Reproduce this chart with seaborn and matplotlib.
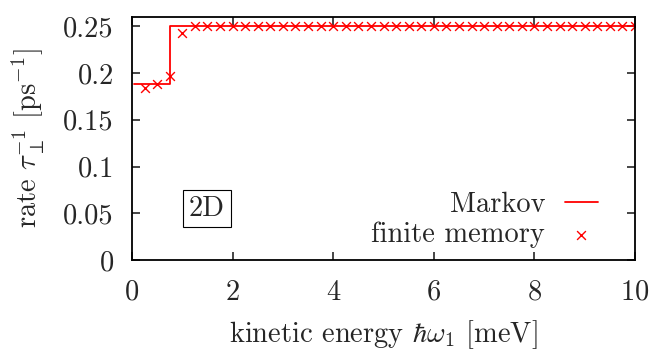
import numpy as np
import matplotlib
matplotlib.use("Agg")
import matplotlib.pyplot as plt
import seaborn as sns

# Markov rate (step at the threshold energy)
markov_x = [0.05, 0.75, 10.0]
markov_y = [0.1887, 0.25, 0.25]

# finite memory points
mem_x = [0.25, 0.5, 0.75, 1.0, 1.25, 1.5, 1.75, 2.0, 2.25, 2.5,
         2.75, 3.0, 3.25, 3.5, 3.75, 4.0, 4.25, 4.5, 4.75, 5.0,
         5.25, 5.5, 5.75, 6.0, 6.25, 6.5, 6.75, 7.0, 7.25, 7.5,
         7.75, 8.0, 8.25, 8.5, 8.75, 9.0, 9.25, 9.5, 9.75, 10.0]
mem_y = [0.1845, 0.1887, 0.1968, 0.2433, 0.25, 0.25, 0.25, 0.25, 0.25, 0.25,
         0.25, 0.25, 0.25, 0.25, 0.25, 0.25, 0.25, 0.25, 0.25, 0.25,
         0.25, 0.25, 0.25, 0.25, 0.25, 0.25, 0.25, 0.25, 0.25, 0.25,
         0.25, 0.25, 0.25, 0.25, 0.25, 0.25, 0.25, 0.25, 0.25, 0.25]

xticks = [0, 2, 4, 6, 8, 10]
yticks = [0, 0.05, 0.1, 0.15, 0.2, 0.25]
ytick_labels = ["0", "0.05", "0.1", "0.15", "0.2", "0.25"]

FS = 20.5

sns.set_style("ticks")
plt.rcParams["font.family"] = "serif"
plt.rcParams["font.serif"] = ["cmr10"]
plt.rcParams["mathtext.fontset"] = "cm"
plt.rcParams["axes.formatter.use_mathtext"] = True
plt.rcParams["font.size"] = FS

fig = plt.figure(figsize=(6.55, 3.52), dpi=100)
ax = fig.add_axes([0.2015, 0.2614, 0.768, 0.6903])

sns.lineplot(x=markov_x, y=markov_y, ax=ax, color="red", lw=1.3,
             drawstyle="steps-post", label="Markov")
sns.scatterplot(x=mem_x, y=mem_y, ax=ax, color="red", marker="x",
                s=40, linewidth=1.0, label="finite memory")

ax.set_xlim(0, 10)
ax.set_ylim(0, 0.26)
ax.set_xticks(xticks)
ax.set_yticks(yticks)
ax.set_yticklabels(ytick_labels)
ax.tick_params(direction="in", length=6, width=1.2, top=True, right=True,
               labelsize=FS)
ax.tick_params(axis="x", pad=14)
ax.tick_params(axis="y", pad=13)
for s in ax.spines.values():
    s.set_linewidth(1.3)
    s.set_color("black")

ax.set_xlabel(r"kinetic energy $\hbar\omega_1$ [meV]", fontsize=FS, labelpad=9)
ax.set_ylabel(r"rate $\tau_\perp^{-1}$ [ps$^{-1}$]", fontsize=FS, labelpad=12)

ax.text(0.149, 0.212, "2D", transform=ax.transAxes, ha="center", va="center",
        fontsize=FS, bbox=dict(boxstyle="square,pad=0.2", fc="white",
                               ec="black", lw=0.8))

# gnuplot-like key: right-aligned text, sample on the right
h, l = ax.get_legend_handles_labels()
ax.get_legend().remove()
kw = dict(frameon=False, markerfirst=False, borderpad=0, borderaxespad=0,
          handlelength=1.15, handletextpad=0.7, fontsize=FS, loc="center right")
leg1 = ax.legend([h[0]], [l[0]], bbox_to_anchor=(0.926, 0.226), **kw)
ax.add_artist(leg1)
ax.legend([h[1]], [l[1]], bbox_to_anchor=(0.926, 0.103), **kw)

fig.savefig("out.png", dpi=100)
